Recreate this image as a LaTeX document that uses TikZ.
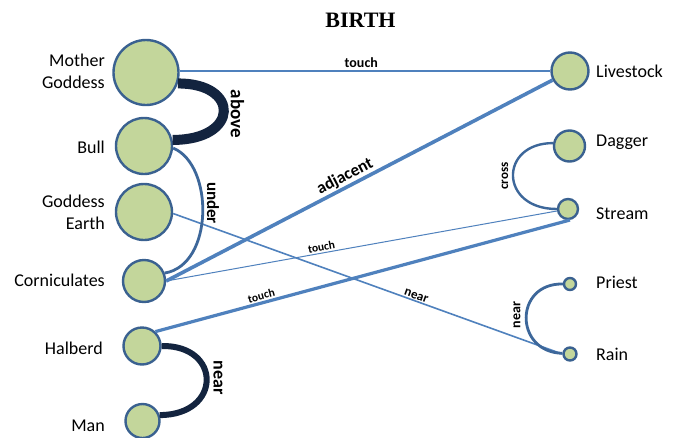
\documentclass[tikz,border=0pt]{standalone}
\usepackage{fontspec}
\setmainfont{Carlito}
\newfontfamily\titlefont{Liberation Serif}
\usetikzlibrary{shapes.geometric}
\definecolor{nodefill}{HTML}{C3D69B}
\definecolor{nodeborder}{HTML}{3A6190}
\definecolor{linkblue}{HTML}{4F81BD}
\definecolor{arcblue}{HTML}{3D679A}
\definecolor{navy}{HTML}{13243F}
\begin{document}
\begin{tikzpicture}[x=1pt,y=-1pt,
  ent/.style={circle, draw=nodeborder, fill=nodefill, line width=2.4pt, inner sep=0pt, minimum size=#1},
  entname/.style={font=\fontsize{18}{22}\selectfont, inner sep=0pt, text=black},
  leftname/.style={entname, anchor=east, align=right},
  rightname/.style={entname, anchor=west},
  fixh/.style={text height=12.5pt, text depth=0pt},
  link/.style={draw=linkblue},
  arcline/.style={draw=arcblue},
  bigarc/.style={draw=navy},
  elbl/.style={font=\bfseries\fontsize{#1}{#1}\selectfont, inner sep=1.5pt, text=black},
]
\useasboundingbox (0,0) rectangle (678,437);
\fill[white] (0,0) rectangle (678,437);

\node[font=\titlefont\bfseries\fontsize{22}{22}\selectfont] (title) at (360.5,20.5) {BIRTH};

% left column
\node[ent=65] (mg) at (146,72.5) {};
\node[ent=56] (bull) at (144,146) {};
\node[ent=56] (ge) at (144,212) {};
\node[ent=42] (corn) at (144,281) {};
\node[ent=37] (halb) at (142,346) {};
\node[ent=34] (man) at (142.5,421) {};

% right column
\node[ent=37] (live) at (570,71) {};
\node[ent=31] (dag) at (569.5,146) {};
\node[ent=20] (stream) at (568,209) {};
\node[ent=12] (priest) at (570,284) {};
\node[ent=13] (rain) at (570,354) {};

% names
\node[leftname] (mgl) at (105,71) {Mother\\Goddess};
\node[leftname, fixh] (bulll) at (105,147) {Bull};
\node[leftname] (gel) at (105,212.5) {Goddess\\Earth};
\node[leftname, fixh] (cornl) at (105,280) {Corniculates};
\node[leftname, fixh] (halbl) at (103,348) {Halberd};
\node[leftname, fixh] (manl) at (105,425) {Man};
\node[rightname, fixh] (livel) at (596,71) {Livestock};
\node[rightname, fixh] (dagl) at (596,140) {Dagger};
\node[rightname, fixh] (streaml) at (596,213) {Stream};
\node[rightname, fixh] (priestl) at (596,282) {Priest};
\node[rightname, fixh] (rainl) at (596,354) {Rain};

% straight links
\draw[link, line width=2pt] (mg.east |- live.west) -- (live.west)
  node[elbl=14, pos=0.49, above, inner sep=2pt] (touchA) {touch};
\draw[link, line width=3.6pt] (corn.east) -- (live)
  node[elbl=17, pos=0.475, above, sloped, inner sep=1pt] (adj) {adjacent};
\draw[link, line width=1pt] (corn.east) -- (stream)
  node[elbl=11.5, pos=0.40, above, sloped] (touchB) {touch};
\draw[link, line width=3.2pt] (halb.47) -- (stream.-80)
  node[elbl=11.5, pos=0.26, above, sloped] (touchC) {touch};
\draw[link, line width=1.6pt] (ge.-3) -- (rain.west)
  node[elbl=13, pos=0.62, above, sloped, inner sep=1pt] (nearA) {near};

% curved links
\draw[bigarc, line width=10pt] (mg.-19) .. controls (240,83) and (240,140) .. (bull.12);
\node[elbl=19, rotate=-90] (above) at (237.5,114) {above};

\draw[arcline, line width=2.8pt] (bull.-4) .. controls (214,165) and (214,265) .. (corn.21);
\node[elbl=17, rotate=-90] (under) at (213,203) {under};

\draw[bigarc, line width=6pt] (halb.east) .. controls (222,345) and (222,415) .. (man.19);
\node[elbl=18, rotate=-90] (nearB) at (218,377.5) {near};

\draw[arcline, line width=2.4pt] (dag.170) .. controls (499,143) and (499,209) .. (stream.west);
\node[elbl=13, rotate=90] (cross) at (505,176) {cross};

\draw[arcline, line width=2.8pt] (priest.west) .. controls (514,283) and (514,352) .. (rain.175);
\node[elbl=14, rotate=90] (nearC) at (517,315) {near};
\end{tikzpicture}
\end{document}
